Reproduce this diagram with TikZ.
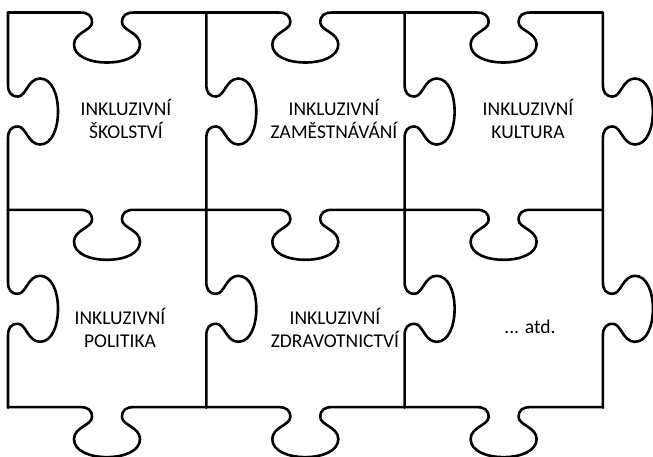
\documentclass[tikz,border=0pt]{standalone}
\usepackage{fontspec}
\setmainfont{Carlito}

\tikzset{
  pzline/.style={line width=2.6pt, line join=round, line cap=round},
  vert/.style={cm={0,-1,-1,0,(0,0)}},
  pztext/.style={font=\fontsize{19.5}{23}\selectfont, align=center},
  pzedge/.pic={
    \draw[pzline] (0,0) -- (72,0)
      .. controls (80,0) and (84,3) .. (84,10)
      .. controls (84,18) and (66,20) .. (66,32)
      .. controls (66,44) and (82,50) .. (99,50)
      .. controls (116,50) and (132,44) .. (132,32)
      .. controls (132,20) and (114,18) .. (114,10)
      .. controls (114,3) and (118,0) .. (126,0) -- (198,0);
  }
}

\begin{document}
\begin{tikzpicture}[x=1pt,y=-1pt]
  \useasboundingbox (0,0) rectangle (653,456);
  % horizontal edges, knobs point down
  \foreach \r in {0,1,2}
    \foreach \c in {0,1,2}
      \pic at ({8+198.3*\c},{12.5+197.3*\r}) {pzedge};
  % vertical edges, knobs point right
  \foreach \c in {0,...,3}
    \foreach \r in {0,1}
      \pic[vert] at ({8+198.3*\c},{12.5+197.3*\r}) {pzedge};

  \node[pztext] (skol)  at (126,119) {INKLUZIVNÍ\\ŠKOLSTVÍ};
  \node[pztext] (zam)   at (334,119) {INKLUZIVNÍ\\ZAMĚSTNÁVÁNÍ};
  \node[pztext] (kult)  at (528,119) {INKLUZIVNÍ\\KULTURA};
  \node[pztext] (pol)   at (120,328) {INKLUZIVNÍ\\POLITIKA};
  \node[pztext] (zdrav) at (335,328) {INKLUZIVNÍ\\ZDRAVOTNICTVÍ};
  \node[pztext] (atd)   at (530,327) {... atd.};
\end{tikzpicture}
\end{document}
